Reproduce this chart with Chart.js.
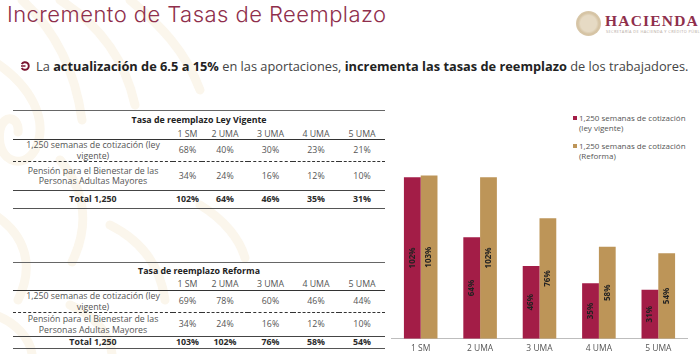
<!DOCTYPE html>
<html lang="es">
<head>
<meta charset="utf-8">
<title>Incremento de Tasas de Reemplazo</title>
<script src="https://cdn.jsdelivr.net/npm/chart.js@4"></script>
<style>
  html, body { margin: 0; padding: 0; background: #fff; }
  body { width: 700px; height: 354px; position: relative; overflow: hidden; font-family: "Open Sans", sans-serif; color: #3c3c3c; }
  #bg { position: absolute; left: 0; top: 0; }
  h1 { position: absolute; left: 7px; top: -1px; margin: 0; font: 300 22px/30px Inter, sans-serif; color: #8f2f4c; letter-spacing: 0.45px; white-space: nowrap; }
  #lead { position: absolute; left: 36px; top: 57px; font: 400 12.8px/18px "Open Sans", sans-serif; color: #444; white-space: nowrap; }
  #lead b { color: #222; font-weight: 700; }
  #arrow { position: absolute; left: 20px; top: 61px; }
  #seal { position: absolute; left: 576px; top: 11px; width: 25px; height: 25px; border-radius: 50%; background: radial-gradient(circle, #e6dac4 0 45%, #d5c3a3 60%, #e2d5bd 100%); }
  #brand { position: absolute; left: 605px; top: 12px; font: 700 15.5px/18px "Liberation Serif", serif; color: #8f2f4c; letter-spacing: 1.2px; white-space: nowrap; }
  #brandsub { position: absolute; left: 606px; top: 29px; font: 400 3.9px/5px "Open Sans", sans-serif; color: #b5a9a0; white-space: nowrap; letter-spacing: 0.4px; }
  table.t { position: absolute; left: 13px; width: 372px; border-collapse: collapse; table-layout: fixed; font-size: 8.8px; line-height: 10.5px; color: #555; }
  table.t td { padding: 0; text-align: center; font-weight: 400; overflow: visible; }
  table.t .title { font-weight: 700; color: #222; border-top: 1px solid #666; }
  table.t .head td { border-bottom: 1px solid #333; }
  table.t .r1 td { border-bottom: 1px dashed #333; }
  table.t .r2 td { border-bottom: 1px solid #444; }
  table.t .tot td { font-weight: 700; color: #2a2a2a; border-bottom: 1px solid #555; }
  #legend { position: absolute; left: 573px; top: 113px; width: 125px; font: 400 8px/9.5px "Open Sans", sans-serif; color: #555; }
  #legend div { position: relative; padding-left: 6px; margin-bottom: 9px; }
  #legend i { position: absolute; left: 0; top: 3px; width: 4px; height: 4px; }
  #wrap { position: absolute; left: 391px; top: 170px; width: 297px; height: 189px; }
</style>
</head>
<body>
<svg id="bg" width="700" height="354">
  <g fill="none" stroke="#fbf6ec" stroke-width="9" stroke-linecap="round">
    <path d="M-5 62 C30 85 50 120 35 150 C22 172 -5 160 0 130 C4 112 20 118 18 132"/>
    <path d="M22 0 C55 30 75 70 82 120"/>
    <path d="M60 0 C100 25 125 60 135 105"/>
    <path d="M130 0 C160 25 185 50 200 90"/>
    <path d="M60 160 C85 190 90 225 72 262"/>
    <path d="M-5 215 C25 235 35 265 18 300"/>
    <path d="M-5 315 C15 322 30 338 32 354"/>
    <path d="M110 225 C140 240 160 265 165 300"/>
    <path d="M70 305 C95 315 110 335 112 354"/>
    <path d="M200 205 C225 220 240 240 245 258"/>
  </g>
</svg>
<h1>Incremento de Tasas de Reemplazo</h1>
<div id="seal"></div>
<div id="brand">HACIENDA</div>
<div id="brandsub">SECRETARÍA DE HACIENDA Y CRÉDITO PÚBLICO</div>
<svg id="arrow" width="10" height="10" viewBox="0 0 10 10">
  <path d="M1.7 3.1 A3.8 3.8 0 1 1 1.7 6.9" fill="none" stroke="#7a1530" stroke-width="1.9"/>
  <path d="M1 5 H5.5" stroke="#7a1530" stroke-width="1.5"/>
</svg>
<div id="lead">La <b>actualización de 6.5 a 15%</b> en las aportaciones, <b>incrementa las tasas de reemplazo</b> de los trabajadores.</div>
<div id="tables"></div>
<div id="legend"></div>
<div id="wrap"><canvas id="c"></canvas></div>
<script>
  const categories = ['1 SM', '2 UMA', '3 UMA', '4 UMA', '5 UMA'];
  const leyVigente = [102, 64, 46, 35, 31];
  const reforma = [103, 102, 76, 58, 54];
  const cotizacionLey = [68, 40, 30, 23, 21];
  const cotizacionReforma = [69, 78, 60, 46, 44];
  const pension = [34, 24, 16, 12, 10];
  const rowLabelCotizacion = '1,250 semanas de cotización (ley vigente)';
  const rowLabelPension = 'Pensión para el Bienestar de las Personas Adultas Mayores';
  const rowLabelTotal = 'Total 1,250';
  const legendLabels = ['1,250 semanas de cotización (ley vigente)', '1,250 semanas de cotización (Reforma)'];
  const colors = ['#a31d47', '#bd9558'];

  function pct(v) { return v + '%'; }

  function cells(vals) {
    return vals.map(v => '<td>' + v + '</td>').join('');
  }

  function addTable(title, top, hs, cot, tot) {
    const t = document.createElement('table');
    t.className = 't';
    t.style.top = top + 'px';
    t.innerHTML =
      '<colgroup><col style="width:160px"><col style="width:29px"><col style="width:46px"><col style="width:45px"><col style="width:46px"><col style="width:46px"></colgroup>' +
      '<tr style="height:' + hs[0] + 'px"><td colspan="6" class="title">' + title + '</td></tr>' +
      '<tr class="head" style="height:' + hs[1] + 'px"><td></td>' + cells(categories) + '</tr>' +
      '<tr class="r1" style="height:' + hs[2] + 'px"><td>' + rowLabelCotizacion + '</td>' + cells(cot.map(pct)) + '</tr>' +
      '<tr class="r2" style="height:' + hs[3] + 'px"><td>' + rowLabelPension + '</td>' + cells(pension.map(pct)) + '</tr>' +
      '<tr class="tot" style="height:' + hs[4] + 'px"><td>' + rowLabelTotal + '</td>' + cells(tot.map(pct)) + '</tr>';
    document.getElementById('tables').appendChild(t);
  }

  addTable('Tasa de reemplazo Ley Vigente', 110, [18, 11, 21, 29, 18], cotizacionLey, leyVigente);
  addTable('Tasa de reemplazo Reforma', 262, [16, 12, 21, 24, 11], cotizacionReforma, reforma);

  document.getElementById('legend').innerHTML = legendLabels.map((l, i) =>
    '<div><i style="background:' + colors[i] + '"></i>' + l + '</div>').join('');

  // rotated % labels in the middle of each bar
  const barLabels = {
    id: 'barLabels',
    afterDatasetsDraw(chart) {
      const ctx = chart.ctx;
      chart.data.datasets.forEach((ds, i) => {
        chart.getDatasetMeta(i).data.forEach((bar, j) => {
          ctx.save();
          ctx.translate(bar.x, (bar.y + bar.base) / 2);
          ctx.rotate(-Math.PI / 2);
          ctx.font = '700 8px "Open Sans", sans-serif';
          ctx.fillStyle = '#222';
          ctx.textAlign = 'center';
          ctx.textBaseline = 'middle';
          ctx.fillText(pct(ds.data[j]), 0, 0);
          ctx.restore();
        });
      });
    }
  };

  new Chart(document.getElementById('c'), {
    type: 'bar',
    data: {
      labels: categories,
      datasets: [
        { label: legendLabels[0], data: leyVigente, backgroundColor: colors[0] },
        { label: legendLabels[1], data: reforma, backgroundColor: colors[1] }
      ]
    },
    options: {
      responsive: true,
      maintainAspectRatio: false,
      animation: false,
      layout: { padding: 0 },
      datasets: { bar: { categoryPercentage: 0.565, barPercentage: 1 } },
      plugins: { legend: { display: false }, tooltip: { enabled: false } },
      scales: {
        x: {
          grid: { display: false, drawTicks: false },
          border: { color: '#bdbdbd' },
          ticks: { color: '#555', font: { size: 8.5, family: '"Open Sans", sans-serif' }, padding: 5, maxRotation: 0 }
        },
        y: { display: false, min: 0, max: 106.5 }
      }
    },
    plugins: [barLabels]
  });
</script>
</body>
</html>
